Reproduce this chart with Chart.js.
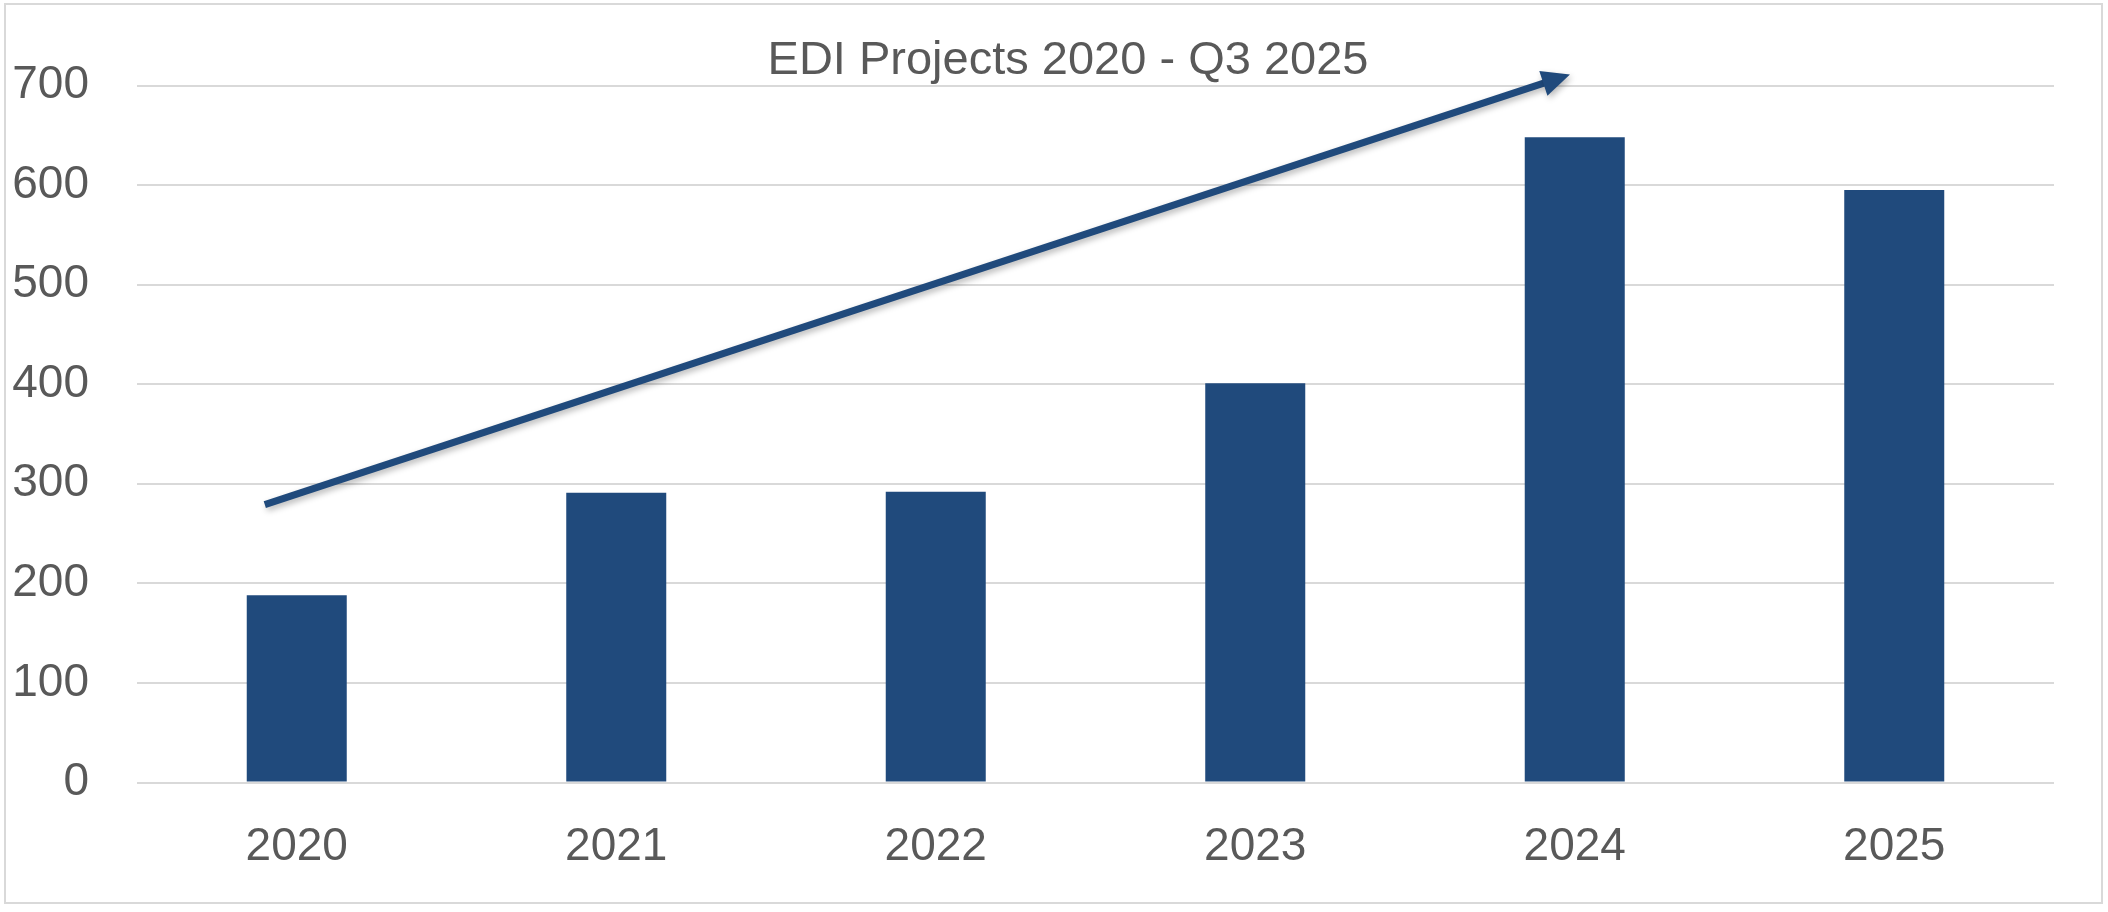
<!DOCTYPE html>
<html>
<head>
<meta charset="utf-8">
<title>EDI Projects 2020 - Q3 2025</title>
<script src="https://cdn.jsdelivr.net/npm/chart.js@4/dist/chart.umd.min.js"></script>
<style>
  html, body { margin: 0; padding: 0; background: #ffffff; }
  canvas { display: block; }
</style>
</head>
<body>
<canvas id="ediChart" width="2108" height="912"></canvas>
<script>
// ==================== DONNEES ====================

const titre = 'EDI Projects 2020 - Q3 2025';
const annees = ['2020', '2021', '2022', '2023', '2024', '2025'];
const projets = [188, 291, 292, 401, 648, 595];
const ticksY = [0, 100, 200, 300, 400, 500, 600, 700];

// fleche de tendance, en coordonnees du graphique [index categorie, valeur]
const flecheDebut = [-0.1, 279];
const flecheFin = [3.985, 711];

const bleu = '#204a7c';
const gris = '#595959';
const police = "'Liberation Sans', Arial, Helvetica, sans-serif";

// ==================== PLUGINS ====================

const cadre = {
  id: 'cadre',
  beforeDraw(chart) {
    const ctx = chart.ctx;
    ctx.save();
    ctx.fillStyle = '#ffffff';
    ctx.fillRect(0, 0, chart.width, chart.height);
    ctx.strokeStyle = '#d9d9d9';
    ctx.lineWidth = 2;
    ctx.strokeRect(5, 4, chart.width - 11, chart.height - 13);
    ctx.restore();
  },
  afterDraw(chart) {
    // titre (le plugin title de Chart.js ne permet pas de le decaler)
    const ctx = chart.ctx;
    ctx.save();
    ctx.fillStyle = gris;
    ctx.font = '47px ' + police;
    ctx.textAlign = 'center';
    ctx.textBaseline = 'middle';
    ctx.fillText(titre, chart.width / 2 + 14, 61);
    ctx.restore();
  }
};

const fleche = {
  id: 'fleche',
  afterDatasetsDraw(chart) {
    const x = chart.scales.x, y = chart.scales.y;
    const x0 = x.getPixelForValue(flecheDebut[0]);
    const y0 = y.getPixelForValue(flecheDebut[1]);
    const x1 = x.getPixelForValue(flecheFin[0]);
    const y1 = y.getPixelForValue(flecheFin[1]);
    const ang = Math.atan2(y1 - y0, x1 - x0);
    const longueurTete = 28, demiLargeur = 13;
    const bx = x1 - longueurTete * Math.cos(ang);
    const by = y1 - longueurTete * Math.sin(ang);

    const ctx = chart.ctx;
    ctx.save();
    ctx.shadowColor = 'rgba(0, 0, 0, 0.28)';
    ctx.shadowBlur = 6;
    ctx.shadowOffsetX = 2;
    ctx.shadowOffsetY = 3;
    ctx.strokeStyle = bleu;
    ctx.fillStyle = bleu;
    ctx.lineWidth = 7;
    ctx.beginPath();
    ctx.moveTo(x0, y0);
    ctx.lineTo(bx + 2 * Math.cos(ang), by + 2 * Math.sin(ang));
    ctx.stroke();
    ctx.beginPath();
    ctx.moveTo(x1, y1);
    ctx.lineTo(bx + demiLargeur * Math.sin(ang), by - demiLargeur * Math.cos(ang));
    ctx.lineTo(bx - demiLargeur * Math.sin(ang), by + demiLargeur * Math.cos(ang));
    ctx.closePath();
    ctx.fill();
    ctx.restore();
  }
};

// ==================== GRAPHIQUE ====================

const ctx = document.getElementById('ediChart').getContext('2d');
new Chart(ctx, {
  type: 'bar',
  data: {
    labels: annees,
    datasets: [{
      label: 'EDI Projects',
      data: projets,
      backgroundColor: bleu,
      borderWidth: 0,
      categoryPercentage: 1,
      barPercentage: 0.313
    }]
  },
  options: {
    responsive: false,
    animation: false,
    devicePixelRatio: 1,
    layout: { padding: { top: 85.5, left: 0, right: 54, bottom: 0 } },
    plugins: {
      legend: { display: false },
      tooltip: { enabled: false },
      title: { display: false }
    },
    scales: {
      x: {
        grid: { display: false, drawTicks: false },
        border: { display: false },
        ticks: {
          color: gris,
          font: { family: police, size: 46 },
          padding: 37
        },
        afterFit(scale) { scale.height = 129.5; }
      },
      y: {
        min: 0,
        max: 700,
        afterBuildTicks(scale) { scale.ticks = ticksY.map(v => ({ value: v })); },
        grid: { color: '#d9d9d9', lineWidth: 2, drawTicks: false },
        border: { display: false },
        ticks: {
          color: gris,
          font: { family: police, size: 46 },
          padding: 48
        },
        afterFit(scale) { scale.width = 137; }
      }
    }
  },
  plugins: [cadre, fleche]
});
</script>
</body>
</html>
